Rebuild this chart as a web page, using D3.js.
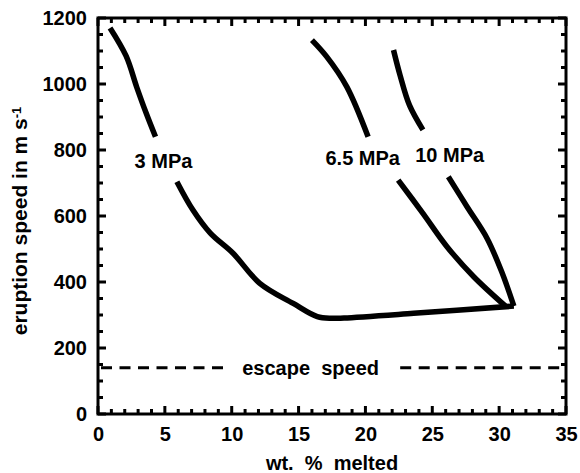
<!DOCTYPE html>
<html>
<head>
<meta charset="utf-8">
<script src="https://cdn.jsdelivr.net/npm/d3@7"></script>
<style>
  body { margin: 0; background: #fff; }
  svg text { font-family: "Liberation Sans", Arial, Helvetica, sans-serif; font-weight: bold; fill: #000; }
</style>
</head>
<body>
<script>
// curves, [wt% melted, speed m/s]; each has a gap where the label sits
var curve3a = [[0.9, 1170], [2.1, 1085], [2.9, 990], [3.6, 912], [4.3, 840]];
var curve3b = [[5.9, 704], [7.1, 618], [8.4, 548], [10.1, 487], [12.1, 396], [14.6, 335], [16.4, 295], [17.5, 290], [18.4, 291], [23.6, 305], [31.1, 327]];
var curve65a = [[16.0, 1133], [17.1, 1083], [18.6, 992], [20.2, 840]];
var curve65b = [[22.45, 709], [24.3, 608], [26.1, 507], [28.1, 416], [30.5, 326]];
var curve10a = [[22.1, 1103], [22.6, 1025], [23.3, 935], [24.3, 861]];
var curve10b = [[26.2, 719], [27.6, 628], [29.1, 532], [30.2, 430], [31.1, 327]];

var curveLabels = ["3 MPa", "6.5 MPa", "10 MPa"];
var labelX = [4.9, 19.8, 26.3];
var labelY = [745, 755, 764];

var escapeSpeed = 140;
var escapeLabel = "escape  speed";

var xTicks = [0, 5, 10, 15, 20, 25, 30, 35];
var yTicks = [0, 200, 400, 600, 800, 1000, 1200];

var width = 580, height = 473;
var mLeft = 98, mRight = 566, mTop = 18, mBottom = 414;

var svg = d3.select("body").append("svg").attr("width", width).attr("height", height);

var x = d3.scaleLinear().domain([0, 35]).range([mLeft, mRight]);
var y = d3.scaleLinear().domain([0, 1200]).range([mBottom, mTop]);

// tick labels
var xa = svg.append("g").attr("transform", "translate(0," + mBottom + ")")
    .call(d3.axisBottom(x).tickValues(xTicks).tickSize(0).tickPadding(13).tickFormat(d3.format("d")));
var ya = svg.append("g").attr("transform", "translate(" + mLeft + ",0)")
    .call(d3.axisLeft(y).tickValues(yTicks).tickSize(0).tickPadding(11).tickFormat(d3.format("d")));
xa.select(".domain").remove();
ya.select(".domain").remove();
svg.selectAll(".tick text").attr("font-size", 20).attr("font-family", null);

// frame
svg.append("rect")
    .attr("x", mLeft).attr("y", mTop)
    .attr("width", mRight - mLeft).attr("height", mBottom - mTop)
    .attr("fill", "none").attr("stroke", "#000").attr("stroke-width", 3);

// tick marks, all pointing inward, on the four sides
var xMinor = d3.range(0, 36, 1);
var yMinor = d3.range(0, 1201, 50);
var tickG = svg.append("g").attr("class", "tickmarks");

function tickLen(v, major) { return major.indexOf(v) >= 0 ? 8 : 5; }

[mBottom, mTop].forEach(function(edge) {
    var dir = edge == mBottom ? -1 : 1;
    xMinor.forEach(function(d) {
        tickG.append("line")
            .attr("x1", x(d)).attr("x2", x(d))
            .attr("y1", edge).attr("y2", edge + dir * tickLen(d, xTicks))
            .style("stroke", "#000").style("stroke-width", "3px");
    });
});
[mLeft, mRight].forEach(function(edge) {
    var dir = edge == mLeft ? 1 : -1;
    yMinor.forEach(function(d) {
        tickG.append("line")
            .attr("y1", y(d)).attr("y2", y(d))
            .attr("x1", edge).attr("x2", edge + dir * tickLen(d, yTicks))
            .style("stroke", "#000").style("stroke-width", "3px");
    });
});

// escape speed dashed line, broken around its label
svg.append("line")
    .attr("x1", x(0) + 3).attr("x2", x(9.8))
    .attr("y1", y(escapeSpeed)).attr("y2", y(escapeSpeed))
    .attr("stroke", "#000").attr("stroke-width", 3).attr("stroke-dasharray", "11,7.5");
svg.append("line")
    .attr("x1", x(22.6)).attr("x2", x(35))
    .attr("y1", y(escapeSpeed)).attr("y2", y(escapeSpeed))
    .attr("stroke", "#000").attr("stroke-width", 3).attr("stroke-dasharray", "11,7.5");
svg.append("text")
    .attr("x", x(15.9)).attr("y", y(escapeSpeed)).attr("dy", "0.36em")
    .attr("text-anchor", "middle").attr("font-size", 20)
    .style("white-space", "pre")
    .text(escapeLabel);

// curves
var lineGen = d3.line().x(d => x(d[0])).y(d => y(d[1])).curve(d3.curveCatmullRom.alpha(0.5));
var segs = [curve3a, curve3b, curve65a, curve65b, curve10a, curve10b];
svg.selectAll("path.curve").data(segs).enter()
    .append("path")
    .attr("class", "curve")
    .attr("d", lineGen)
    .attr("fill", "none")
    .attr("stroke", "#000")
    .attr("stroke-width", 5.5)
    .attr("stroke-linejoin", "miter");

svg.selectAll("text.clabel").data(curveLabels).enter()
    .append("text")
    .attr("class", "clabel")
    .attr("x", (d, i) => x(labelX[i]))
    .attr("y", (d, i) => y(labelY[i]))
    .attr("text-anchor", "middle")
    .attr("font-size", 20)
    .text(d => d);

// axis titles
svg.append("text")
    .attr("x", (mLeft + mRight) / 2).attr("y", 470)
    .attr("text-anchor", "middle").attr("font-size", 20)
    .style("white-space", "pre")
    .text("wt.  %  melted");

var yt = svg.append("text")
    .attr("transform", "translate(27," + 221 + ") rotate(-90)")
    .attr("text-anchor", "middle").attr("font-size", 21);
yt.append("tspan").text("eruption speed in m s");
yt.append("tspan").attr("dy", "-0.5em").attr("font-size", 13).text("-1");
</script>
</body>
</html>
